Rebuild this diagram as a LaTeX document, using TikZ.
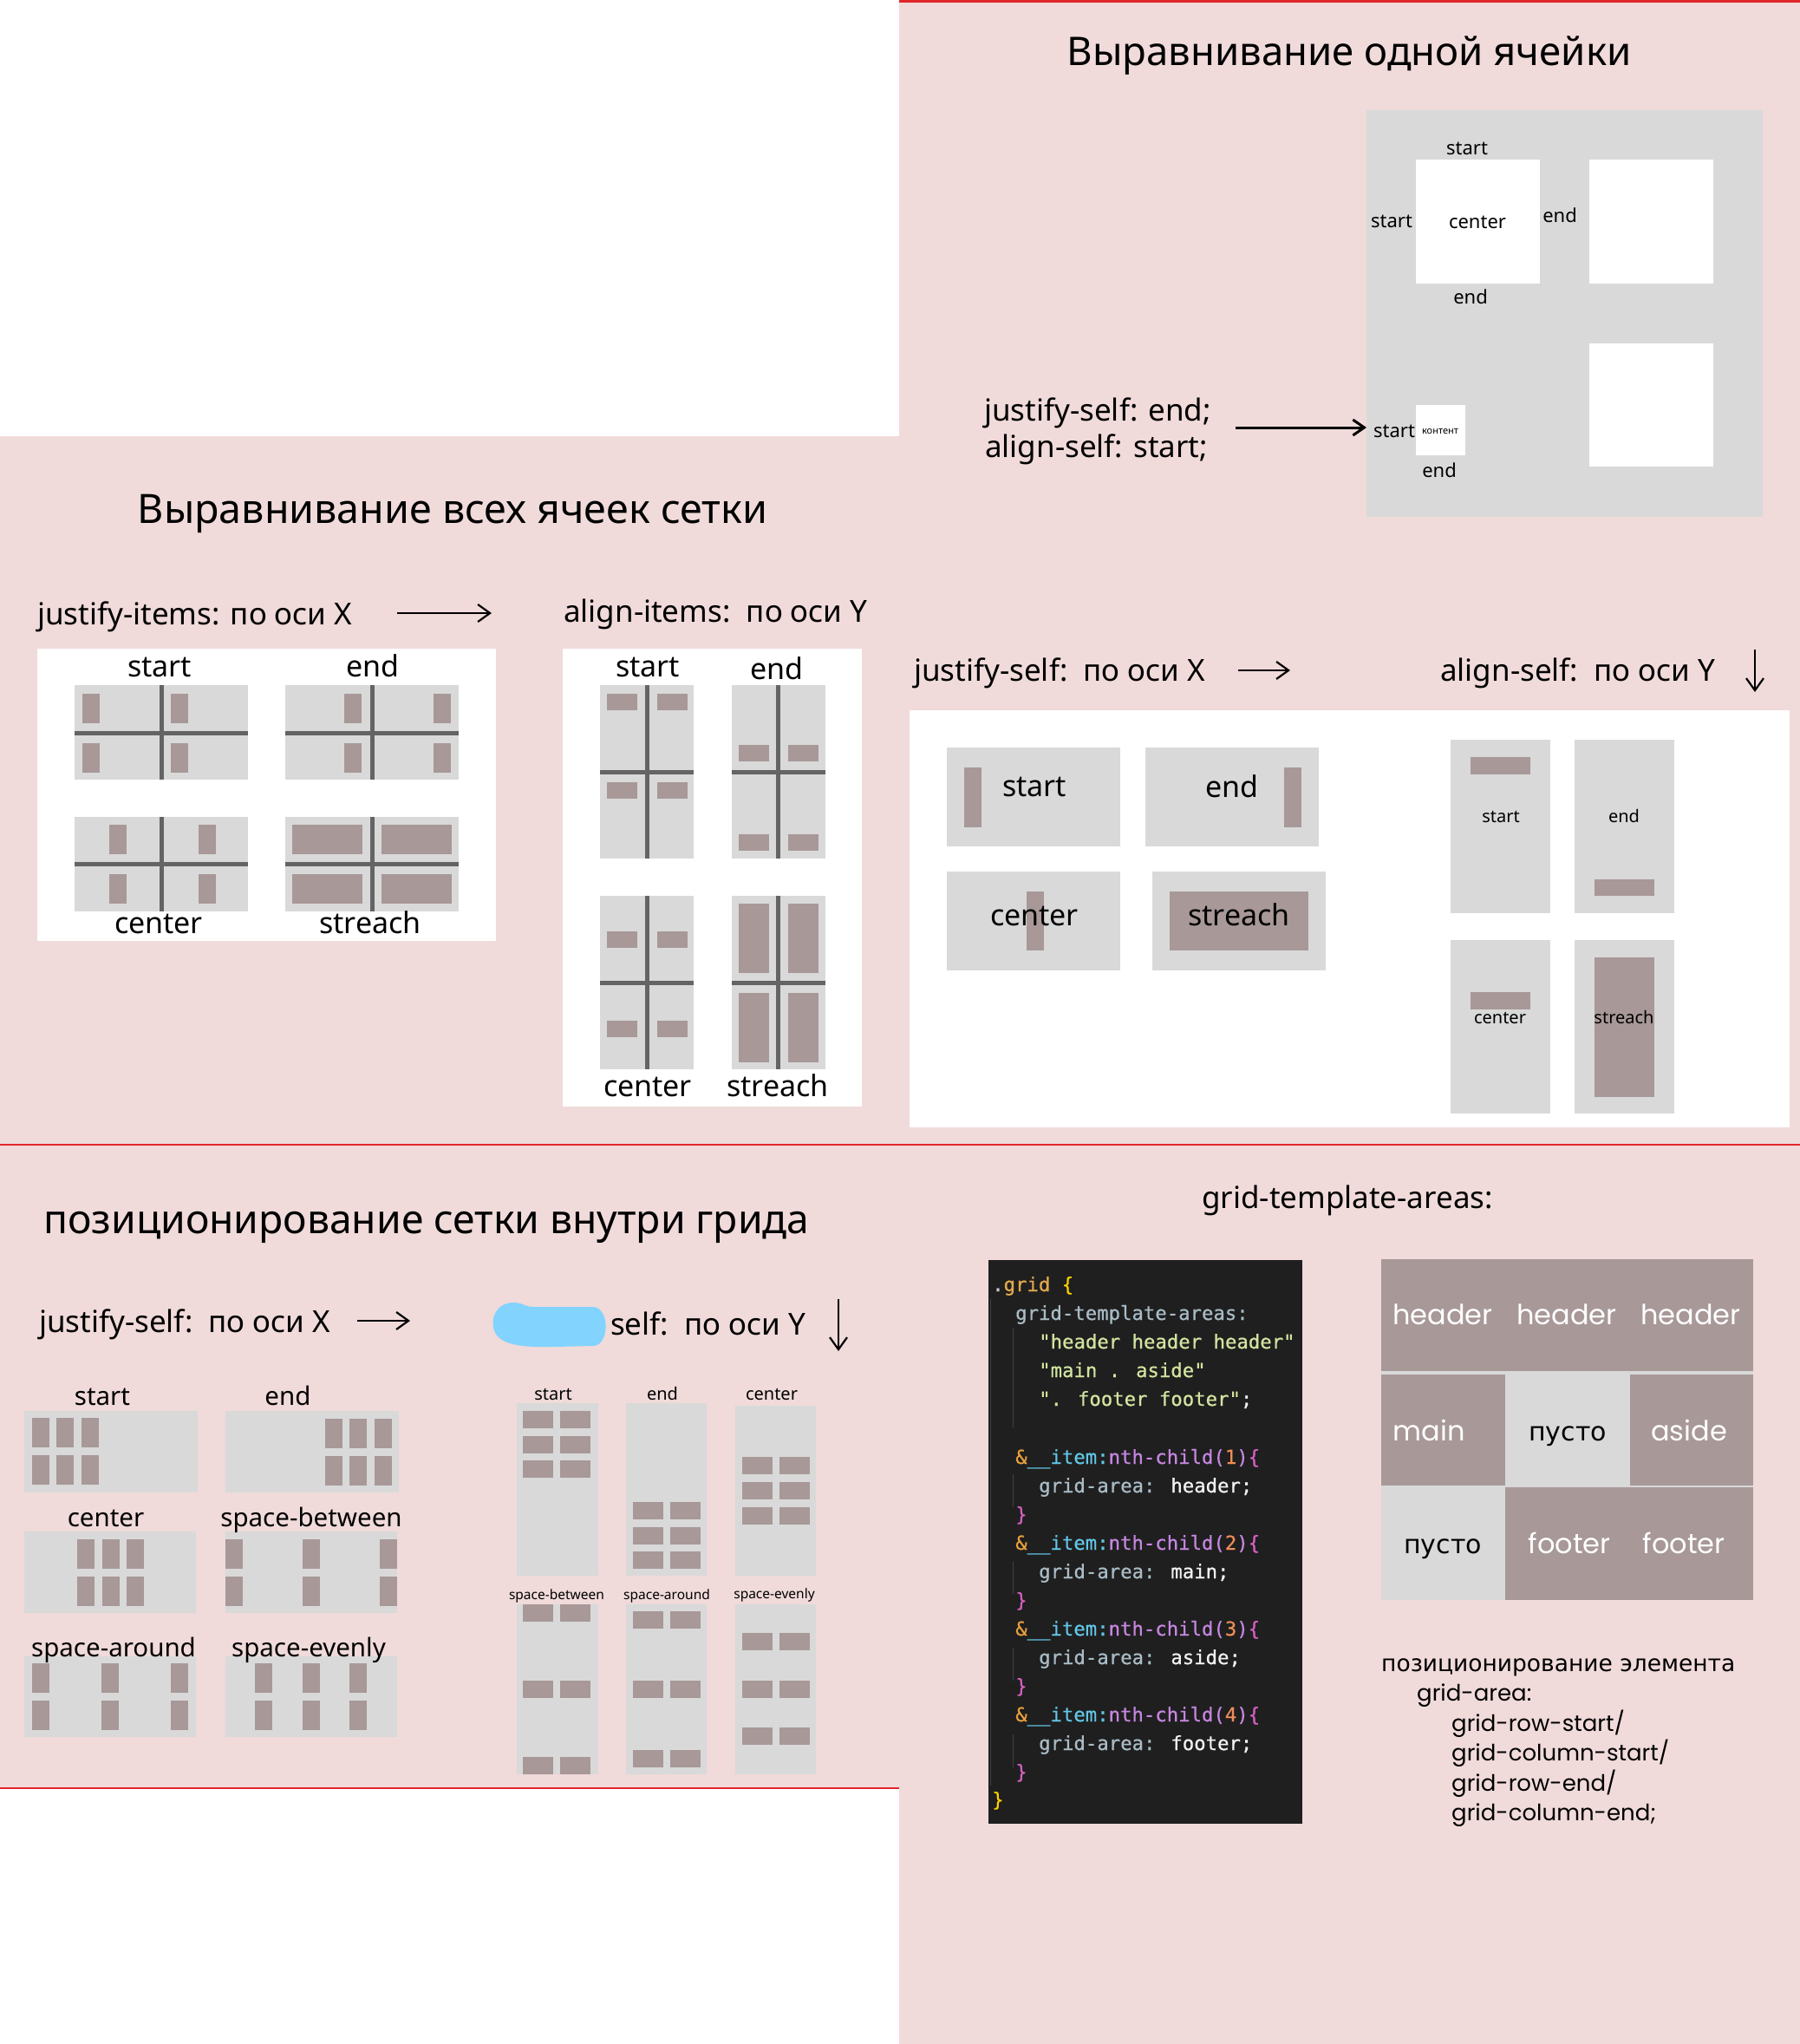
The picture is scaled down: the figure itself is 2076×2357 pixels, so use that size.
\documentclass[tikz,border=0pt]{standalone}
\usepackage{fontspec}
\setmainfont{Noto Sans}
\newfontfamily\codefont{DejaVu Sans Mono}[FakeBold=0.6]
\newfontfamily\geofont{Poppins}
\newfontfamily\cyrgeo{DejaVu Sans}
\usetikzlibrary{arrows.meta}
\definecolor{pinkbg}{HTML}{F0DADA}
\definecolor{redline}{HTML}{E0262A}
\definecolor{cellgray}{HTML}{D9D9D9}
\definecolor{mauve}{HTML}{A89898}
\definecolor{gridline}{HTML}{646464}
\definecolor{codebg}{HTML}{1F1F1F}
\definecolor{blobblue}{HTML}{82D3FE}
\definecolor{cdot}{HTML}{C8C8C8}
\definecolor{cgold}{HTML}{E2A84E}
\definecolor{cbrace}{HTML}{F5D000}
\definecolor{cprop}{HTML}{A9BCC6}
\definecolor{cstr}{HTML}{D2E4A0}
\definecolor{camp}{HTML}{E8A03C}
\definecolor{citem}{HTML}{62C6E6}
\definecolor{cpurp}{HTML}{C586E0}
\definecolor{cnum}{HTML}{F08C5A}
\definecolor{cmag}{HTML}{D45FC0}
\definecolor{cval}{HTML}{F2F2F2}
\definecolor{guide}{HTML}{404040}
\begin{document}
\begin{tikzpicture}[x=1pt,y=-1pt,
  cellg/.style={fill=cellgray},
  itm/.style={fill=mauve},
  gline/.style={draw=gridline,line width=5pt},
  ttl/.style={font=\fontsize{46}{54}\selectfont,inner sep=0pt,anchor=base},
  hdr/.style={font=\fontsize{35}{42}\selectfont,inner sep=0pt,anchor=base west},
  clbl/.style={font=\fontsize{34}{40}\selectfont,inner sep=0pt,anchor=base},
  slbl/.style={font=\fontsize{22}{26}\selectfont,inner sep=0pt,anchor=base},
  smlbl/.style={font=\fontsize{20}{24}\selectfont,inner sep=0pt,anchor=base},
  plbl/.style={font=\fontsize{29.5}{35}\selectfont,inner sep=0pt,anchor=base},
  tinylbl/.style={font=\fontsize{15.5}{18}\selectfont,inner sep=0pt,anchor=base},
  kontlbl/.style={font=\fontsize{11}{13}\selectfont,inner sep=0pt,anchor=base},
  codeln/.style={font=\codefont\fontsize{22.3}{26}\selectfont,inner sep=0pt,anchor=base west},
  areatxt/.style={font=\geofont\fontsize{32}{38}\selectfont,inner sep=0pt,anchor=base},
  areacyr/.style={font=\cyrgeo\fontsize{30}{36}\selectfont,inner sep=0pt,anchor=base},
  notetxt/.style={font=\geofont\fontsize{26}{32}\selectfont,inner sep=0pt,anchor=base west},
  notecyr/.style={font=\cyrgeo\fontsize{26.5}{32}\selectfont,inner sep=0pt,anchor=base west},
  bigarr/.style={-{Straight Barb[length=13pt,width=18pt]},line width=3pt},
  smarr/.style={-{Straight Barb[length=14pt,width=20pt]},line width=2.2pt},
  guideln/.style={draw=guide,line width=1pt}
]
\useasboundingbox (0,0) rectangle (2076,2357);
\fill[white] (0,0) rectangle (2076,2357);
\fill[pinkbg] (1037,0) rectangle (2076,2357);
\fill[pinkbg] (0,503) rectangle (1037,2062);
\draw[redline,line width=3pt] (1037,1.5) -- (2076,1.5);
\draw[redline,line width=2pt] (0,1320) -- (2076,1320);
\draw[redline,line width=2pt] (0,2062) -- (1037,2062);

% ---------------- Section 1 ----------------
\node[ttl,font=\fontsize{45.5}{54}\selectfont] (t1) at (1556,76) {Выравнивание одной ячейки};
\fill[cellg] (1576,127) rectangle (2033,596);
\fill[white] (1633,184) rectangle (1776,327);
\fill[white] (1833,184) rectangle (1976,327);
\fill[white] (1833,396) rectangle (1976,538);
\fill[white] (1633,467) rectangle (1690,525);
\node[slbl] (s1top) at (1692,179) {start};
\node[slbl] (s1left) at (1605,262) {start};
\node[slbl] (s1center) at (1704,263) {center};
\node[slbl] (s1right) at (1799,257) {end};
\node[slbl] (s1bottom) at (1696,350) {end};
\node[slbl] (s2left) at (1608,504) {start};
\node[kontlbl] (kont) at (1661,500) {контент};
\node[slbl] (s2bottom) at (1660,550) {end};
\node[hdr] (js1) at (1135,485) {justify-self: end;};
\node[hdr] (as1) at (1136,527) {align-self: start;};
\coordinate (a1s) at (1425,493);
\coordinate (a1e) at (1576,493);
\draw[bigarr] (a1s) -- (a1e);

% ---------------- Section 2 ----------------
\node[ttl,font=\fontsize{46.6}{54}\selectfont] (t2) at (522,603) {Выравнивание всех ячеек сетки};
\node[hdr] (ji) at (43,720) {justify-items: по оси X};
\coordinate (a2s) at (458,707);
\coordinate (a2e) at (567,707);
\draw[smarr] (a2s) -- (a2e);
\node[hdr] (ai) at (650,717) {align-items:\ \ по оси Y};
\fill[white] (43,748) rectangle (572,1085);
\fill[white] (649,748) rectangle (994,1276);
% box1 start
\fill[cellg] (86,790) rectangle (286,899);
\foreach \x in {95,197} \foreach \y in {800,857} \fill[itm] (\x,\y) rectangle ++(20,34);
\draw[gline] (186,790) -- (186,899); \draw[gline] (86,845) -- (286,845);
% box1 end
\fill[cellg] (329,790) rectangle (529,899);
\foreach \x in {397,500} \foreach \y in {800,857} \fill[itm] (\x,\y) rectangle ++(20,34);
\draw[gline] (429,790) -- (429,899); \draw[gline] (329,845) -- (529,845);
% box1 center
\fill[cellg] (86,942) rectangle (286,1051);
\foreach \x in {126,229} \foreach \y in {951,1008} \fill[itm] (\x,\y) rectangle ++(20,34);
\draw[gline] (186,942) -- (186,1051); \draw[gline] (86,996) -- (286,996);
% box1 streach
\fill[cellg] (329,942) rectangle (529,1051);
\foreach \x in {337,440} \foreach \y in {951,1008} \fill[itm] (\x,\y) rectangle ++(81,34);
\draw[gline] (429,942) -- (429,1051); \draw[gline] (329,996) -- (529,996);
\node[clbl] (b1a) at (184,780) {start};
\node[clbl] (b1b) at (430,780) {end};
\node[clbl] (b1c) at (183,1076) {center};
\node[clbl] (b1d) at (427,1076) {streach};
% box2 start
\fill[cellg] (692,790) rectangle (800,990);
\foreach \x in {700,758} \foreach \y in {800,902} \fill[itm] (\x,\y) rectangle ++(35,19);
\draw[gline] (746,790) -- (746,990); \draw[gline] (692,890) -- (800,890);
% box2 end
\fill[cellg] (844,790) rectangle (952,990);
\foreach \x in {852,909} \foreach \y in {859,962} \fill[itm] (\x,\y) rectangle ++(35,19);
\draw[gline] (897,790) -- (897,990); \draw[gline] (844,890) -- (952,890);
% box2 center
\fill[cellg] (692,1033) rectangle (800,1233);
\foreach \x in {700,758} \foreach \y in {1074,1177} \fill[itm] (\x,\y) rectangle ++(35,19);
\draw[gline] (746,1033) -- (746,1233); \draw[gline] (692,1133) -- (800,1133);
% box2 streach
\fill[cellg] (844,1033) rectangle (952,1233);
\foreach \x in {852,909} \foreach \y in {1042,1145} \fill[itm] (\x,\y) rectangle ++(35,80);
\draw[gline] (897,1033) -- (897,1233); \draw[gline] (844,1133) -- (952,1133);
\node[clbl] (b2a) at (747,780) {start};
\node[clbl] (b2b) at (896,783) {end};
\node[clbl] (b2c) at (747,1264) {center};
\node[clbl] (b2d) at (897,1264) {streach};

% ---------------- Section 3 ----------------
\node[hdr] (js3) at (1054,785) {justify-self:\ \ по оси X};
\coordinate (a3s) at (1428,773);
\coordinate (a3e) at (1488,773);
\draw[smarr] (a3s) -- (a3e);
\node[hdr] (as3) at (1661,785) {align-self:\ \ по оси Y};
\coordinate (a4s) at (2024,749);
\coordinate (a4e) at (2024,798);
\draw[smarr] (a4s) -- (a4e);
\fill[white] (1049,819) rectangle (2064,1300);
\fill[cellg] (1092,862) rectangle (1292,976);
\fill[itm] (1112,885) rectangle (1132,954);
\fill[cellg] (1321,862) rectangle (1521,976);
\fill[itm] (1481,885) rectangle (1501,954);
\fill[cellg] (1092,1005) rectangle (1292,1119);
\fill[itm] (1184,1028) rectangle (1204,1096);
\fill[cellg] (1329,1005) rectangle (1529,1119);
\fill[itm] (1349,1028) rectangle (1509,1096);
\node[clbl] (j3a) at (1193,918) {start};
\node[clbl] (j3b) at (1421,919) {end};
\node[clbl] (j3c) at (1193,1067) {center};
\node[clbl] (j3d) at (1429,1067) {streach};
\fill[cellg] (1673,853) rectangle (1788,1053);
\fill[itm] (1696,873) rectangle (1765,893);
\fill[cellg] (1816,853) rectangle (1931,1053);
\fill[itm] (1839,1014) rectangle (1908,1033);
\fill[cellg] (1673,1084) rectangle (1788,1284);
\fill[itm] (1696,1144) rectangle (1765,1164);
\fill[cellg] (1816,1084) rectangle (1931,1284);
\fill[itm] (1839,1104) rectangle (1908,1265);
\node[smlbl] (al3a) at (1731,948) {start};
\node[smlbl] (al3b) at (1873,948) {end};
\node[smlbl] (al3c) at (1730,1180) {center};
\node[smlbl] (al3d) at (1873,1180) {streach};

% ---------------- Section 4 ----------------
\node[ttl,font=\fontsize{46.2}{54}\selectfont] (t4) at (492,1422) {позиционирование сетки внутри грида};
\node[hdr] (js4) at (45,1536) {justify-self:\ \ по оси X};
\coordinate (a5s) at (412,1523);
\coordinate (a5e) at (473,1523);
\draw[smarr] (a5s) -- (a5e);
\fill[blobblue] (600,1503) .. controls (578,1498) and (566,1514) .. (569,1530)
  .. controls (572,1551) and (600,1554) .. (640,1553) -- (684,1552)
  .. controls (703,1552) and (704,1508) .. (684,1507) -- (620,1507)
  .. controls (610,1507) .. (600,1503) -- cycle;
\node[hdr] (as4) at (704,1539) {self:\ \ по оси Y};
\coordinate (a6s) at (967,1498);
\coordinate (a6e) at (967,1558);
\draw[smarr] (a6s) -- (a6e);
% left grids
\fill[cellg] (28,1627) rectangle (228,1721);
\foreach \x in {37,65,94} \foreach \y in {1635,1678} \fill[itm] (\x,\y) rectangle ++(20,34);
\fill[cellg] (260,1627) rectangle (460,1721);
\foreach \x in {375,403,432} \foreach \y in {1636,1679} \fill[itm] (\x,\y) rectangle ++(20,34);
\fill[cellg] (28,1766) rectangle (226,1860);
\foreach \x in {89,118,146} \foreach \y in {1775,1818} \fill[itm] (\x,\y) rectangle ++(20,34);
\fill[cellg] (260,1766) rectangle (458,1860);
\foreach \x in {260,349,438} \foreach \y in {1775,1818} \fill[itm] (\x,\y) rectangle ++(20,34);
\fill[cellg] (28,1910) rectangle (226,2003);
\foreach \x in {37,117,197} \foreach \y in {1918,1961} \fill[itm] (\x,\y) rectangle ++(20,34);
\fill[cellg] (260,1910) rectangle (458,2003);
\foreach \x in {294,349,403} \foreach \y in {1918,1961} \fill[itm] (\x,\y) rectangle ++(20,34);
\node[plbl] (p1) at (118,1620) {start};
\node[plbl] (p2) at (332,1620) {end};
\node[plbl] (p3) at (122,1760) {center};
\node[plbl] (p4) at (359,1760) {space-between};
\node[plbl] (p5) at (131,1910) {space-around};
\node[plbl] (p6) at (356,1910) {space-evenly};
% right tall grids
\fill[cellg] (596,1618) rectangle (690,1817);
\foreach \x in {603,646} \foreach \y in {1627,1656,1684} \fill[itm] (\x,\y) rectangle ++(35,20);
\fill[cellg] (722,1618) rectangle (815,1817);
\foreach \x in {730,773} \foreach \y in {1732,1761,1789} \fill[itm] (\x,\y) rectangle ++(35,20);
\fill[cellg] (848,1621) rectangle (941,1817);
\foreach \x in {856,899} \foreach \y in {1680,1709,1738} \fill[itm] (\x,\y) rectangle ++(35,20);
\fill[cellg] (596,1850) rectangle (690,2046);
\foreach \x in {603,646} \foreach \y in {1850,1938,2026} \fill[itm] (\x,\y) rectangle ++(35,20);
\fill[cellg] (722,1850) rectangle (815,2046);
\foreach \x in {730,773} \foreach \y in {1858,1938,2018} \fill[itm] (\x,\y) rectangle ++(35,20);
\fill[cellg] (848,1850) rectangle (941,2046);
\foreach \x in {856,899} \foreach \y in {1883,1938,1992} \fill[itm] (\x,\y) rectangle ++(35,20);
\node[smlbl] (q1) at (638,1614) {start};
\node[smlbl] (q2) at (764,1614) {end};
\node[smlbl] (q3) at (890,1614) {center};
\node[tinylbl] (q4) at (642,1844) {space-between};
\node[tinylbl] (q5) at (769,1844) {space-around};
\node[tinylbl] (q6) at (893,1843) {space-evenly};

% ---------------- Section 5 ----------------
\node[font=\fontsize{35}{42}\selectfont,inner sep=0pt,anchor=base] (gta) at (1554,1393) {grid-template-areas:};
\fill[codebg] (1140,1453) rectangle (1502,2103);
\draw[guideln] (1142,1498) -- (1142,2059);
\draw[guideln] (1168,1531) -- (1168,1646);
\draw[guideln] (1168,1700) -- (1168,1738);
\draw[guideln] (1168,1800) -- (1168,1838);
\draw[guideln] (1168,1900) -- (1168,1938);
\draw[guideln] (1168,2000) -- (1168,2038);
\node[codeln] (c0) at (1144,1489) {\textcolor{cdot}{.}\textcolor{cgold}{grid} \textcolor{cbrace}{\{}};
\node[codeln] (c1) at (1171,1522) {\textcolor{cprop}{grid-template-areas:}};
\node[codeln] (c2) at (1198,1555) {\textcolor{cstr}{"header header header"}};
\node[codeln] (c3) at (1198,1588) {\textcolor{cstr}{"main . aside"}};
\node[codeln] (c4) at (1198,1621) {\textcolor{cstr}{". footer footer"}\textcolor{cval}{;}};
\node[codeln] (c6) at (1171,1688) {\textcolor{camp}{\&}\textcolor{citem}{\_\_item:}\textcolor{cpurp}{nth-child(}\textcolor{cnum}{1}\textcolor{cpurp}{)}\textcolor{cmag}{\{}};
\node[codeln] (c7) at (1198,1721) {\textcolor{cprop}{grid-area:} \textcolor{cval}{header;}};
\node[codeln] (c8) at (1171,1754) {\textcolor{cmag}{\}}};
\node[codeln] (c9) at (1171,1787) {\textcolor{camp}{\&}\textcolor{citem}{\_\_item:}\textcolor{cpurp}{nth-child(}\textcolor{cnum}{2}\textcolor{cpurp}{)}\textcolor{cmag}{\{}};
\node[codeln] (c10) at (1198,1820) {\textcolor{cprop}{grid-area:} \textcolor{cval}{main;}};
\node[codeln] (c11) at (1171,1853) {\textcolor{cmag}{\}}};
\node[codeln] (c12) at (1171,1886) {\textcolor{camp}{\&}\textcolor{citem}{\_\_item:}\textcolor{cpurp}{nth-child(}\textcolor{cnum}{3}\textcolor{cpurp}{)}\textcolor{cmag}{\{}};
\node[codeln] (c13) at (1198,1919) {\textcolor{cprop}{grid-area:} \textcolor{cval}{aside;}};
\node[codeln] (c14) at (1171,1952) {\textcolor{cmag}{\}}};
\node[codeln] (c15) at (1171,1985) {\textcolor{camp}{\&}\textcolor{citem}{\_\_item:}\textcolor{cpurp}{nth-child(}\textcolor{cnum}{4}\textcolor{cpurp}{)}\textcolor{cmag}{\{}};
\node[codeln] (c16) at (1198,2018) {\textcolor{cprop}{grid-area:} \textcolor{cval}{footer;}};
\node[codeln] (c17) at (1171,2051) {\textcolor{cmag}{\}}};
\node[codeln] (c18) at (1144,2083) {\textcolor{cbrace}{\}}};
% areas grid
\fill[cellg] (1593,1452) rectangle (2022,1845);
\fill[mauve] (1593,1452) rectangle (2022,1581);
\fill[mauve] (1593,1585) rectangle (1736,1713);
\fill[mauve] (1880,1585) rectangle (2022,1713);
\fill[mauve] (1736,1715) rectangle (2022,1845);
\node[areatxt,text=white] (h1) at (1664,1527) {header};
\node[areatxt,text=white] (h2) at (1807,1527) {header};
\node[areatxt,text=white] (h3) at (1950,1527) {header};
\node[areatxt,text=white] (m1) at (1648,1661) {main};
\node[areacyr,text=black] (e1) at (1808,1661) {пусто};
\node[areatxt,text=white] (as5) at (1948,1661) {aside};
\node[areacyr,text=black] (e2) at (1664,1791) {пусто};
\node[areatxt,text=white] (f1) at (1810,1791) {footer};
\node[areatxt,text=white] (f2) at (1942,1791) {footer};
\node[notecyr] (n0) at (1593,1927) {позиционирование элемента};
\node[notetxt] (n1) at (1634,1961) {grid-area:};
\node[notetxt] (n2) at (1674,1996) {grid-row-start/};
\node[notetxt] (n3) at (1674,2030) {grid-column-start/};
\node[notetxt] (n4) at (1674,2065) {grid-row-end/};
\node[notetxt] (n5) at (1674,2099) {grid-column-end;};
\end{tikzpicture}
\end{document}
